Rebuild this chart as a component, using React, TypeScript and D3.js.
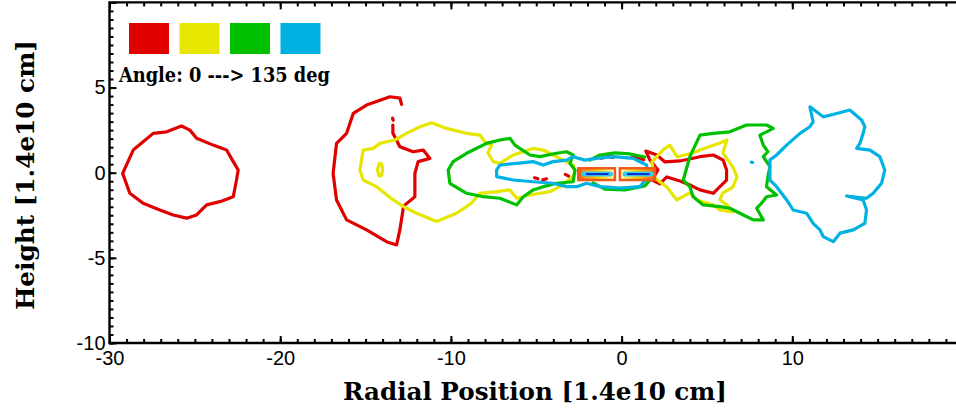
import React, { useEffect, useRef } from "react";
import * as d3 from "d3";

type Pt = [number, number];

// colours of the four viewing angles, 0 -> 135 deg
const angleColors = ["#e00000", "#e6e600", "#00c000", "#00b2e2"];
const angleLabel = "Angle: 0 ---> 135 deg";
const xLabel = "Radial Position [1.4e10 cm]";
const yLabel = "Height [1.4e10 cm]";
const xTickLabels = [-30, -20, -10, 0, 10];
const yTickLabels = [-10, -5, 0, 5];

// contours, [radial, height] in 1.4e10 cm
const redLeft: Pt[] = [
  [-29.23, -0.04], [-28.61, 1.33], [-27.44, 2.31], [-26.65, 2.4], [-25.78, 2.74],
  [-25.29, 2.5], [-24.9, 2.02], [-23.93, 1.62], [-23.14, 1.33], [-22.75, 0.65],
  [-22.46, 0.16], [-22.56, -0.43], [-22.75, -1.41], [-23.53, -1.7], [-24.31, -1.89],
  [-24.9, -2.48], [-25.48, -2.67], [-26.27, -2.48], [-27.05, -2.19], [-28.03, -1.79],
  [-28.81, -1.21],
];
const redMid: Pt[] = [
  [-12.89, 4.01], [-12.99, 4.38], [-13.57, 4.46], [-14.94, 3.97], [-15.72, 3.48],
  [-16.11, 2.31], [-16.7, 1.72], [-16.9, -0.04], [-16.7, -1.6], [-16.11, -2.77],
  [-14.94, -3.36], [-13.77, -4.05], [-13.18, -4.24], [-12.99, -3.36], [-12.79, -2.09],
  [-12.69, -1.89], [-12.11, -1.41], [-12.11, -0.04], [-11.92, 0.65], [-11.23, 0.84],
  [-11.62, 1.33], [-12.21, 1.23], [-12.99, 1.52], [-13.4, 2.33], [-13.4, 2.8],
];
const redDot: Pt[] = [[-13.42, 3.2], [-13.38, 3.08]];
const redBits: Pt[][] = [
  [[-5.1, -0.3], [-4.9, -0.36]],
  [[-4.62, -0.42], [-4.4, -0.36]],
  [[-3.3, -0.1], [-3.1, -0.2]],
  [[-1.2, 0.85], [-0.8, 0.95], [-0.5, 0.9]],
  [[0.6, 0.92], [1.0, 0.86], [1.3, 0.76]],
];
const redRight: Pt[] = [
  [1.42, 1.27], [2.07, 1.04], [2.54, 0.63], [3.42, 0.69], [4.59, 0.94], [5.37, 1.04],
  [5.95, 0.74], [6.15, 0.16], [6.15, -0.43], [5.76, -0.82], [5.37, -1.21], [4.59, -1.01],
  [4.0, -0.72], [3.42, -0.49], [2.65, -0.25], [2.24, -0.66], [1.78, -0.43], [2.13, 0.16],
  [1.66, 0.74],
];
const yellowLeft: Pt[] = [
  [-15.33, 0.16], [-15.14, 1.33], [-14.55, 1.43], [-14.16, 1.72], [-13.77, 1.82],
  [-13.28, 1.92], [-12.6, 2.31], [-11.82, 2.7], [-11.13, 2.93], [-10.25, 2.6],
  [-9.08, 2.31], [-8.3, 2.21], [-8.01, 1.82], [-7.62, 1.62], [-7.83, 1.16],
  [-7.52, 0.65], [-7.13, 0.55], [-6.35, 1.04], [-5.76, 1.23], [-5.18, 1.43],
  [-4.59, 1.33], [-4.01, 1.04], [-3.42, 0.74], [-2.84, 0.45], [-2.74, 0.04],
  [-2.84, -0.23], [-3.22, -0.53], [-3.61, -0.82], [-4.2, -1.11], [-5.37, -1.31],
  [-6.15, -1.5], [-6.54, -1.01], [-7.32, -1.11], [-8.3, -1.21], [-8.79, -1.79],
  [-9.67, -2.38], [-10.84, -2.87], [-12.01, -2.38], [-12.6, -2.09], [-13.38, -1.6],
  [-14.35, -0.82], [-15.14, -0.43],
];
const yellowBlob: Pt[] = [
  [-14.2, 0.55], [-14.05, 0.5], [-14.0, 0.2], [-14.05, -0.15], [-14.2, -0.2], [-14.3, 0.15],
];
const yellowRight: Pt[] = [
  [1.77, 0.63], [2.42, 1.33], [2.83, 1.62], [3.24, 0.94], [4.18, 1.16], [4.59, 1.33],
  [5.76, 1.74], [6.17, 1.92], [5.93, 1.16], [6.52, 0.33], [6.76, -0.25], [6.52, -0.84],
  [5.93, -1.19], [5.76, -1.6], [6.17, -1.89], [6.52, -2.31], [5.76, -2.19], [5.35, -1.89],
  [4.41, -1.6], [4.0, -1.19], [3.24, -1.6], [2.65, -0.84], [1.95, -0.31],
];
const greenLeft: Pt[] = [
  [-10.16, 0.16], [-9.87, 0.65], [-9.08, 1.14], [-7.91, 1.72], [-7.13, 1.92],
  [-6.54, 2.02], [-6.25, 1.62], [-5.37, 1.04], [-4.79, 0.94], [-3.81, 1.14],
  [-3.22, 1.23], [-2.84, 1.04], [-3.03, 0.55], [-2.73, 0.16], [-2.84, -0.53],
  [-3.81, -0.62], [-4.59, -0.82], [-5.18, -1.01], [-5.76, -1.41], [-6.15, -1.89],
  [-7.13, -1.5], [-8.11, -1.41], [-9.08, -1.21], [-10.06, -0.62],
];
const greenCore: Pt[][] = [
  [[-1.67, -0.6], [-0.98, -0.96], [0.19, -1.01], [1.36, -0.78], [1.77, -0.31]],
  [[-1.86, 0.74], [-1.27, 1.04], [-0.39, 1.16], [0.49, 1.1], [1.36, 0.92]],
];
const greenRight: Pt[] = [
  [3.61, -0.43], [4.0, 0.94], [4.59, 2.21], [5.37, 2.31], [6.34, 2.4], [7.32, 2.8],
  [8.49, 2.8], [8.88, 2.6], [8.49, 2.4], [8.1, 2.21], [8.3, 1.62], [8.57, 1.23],
  [8.3, 0.94], [8.69, 0.35], [8.57, -0.23], [8.49, -0.82], [9.08, -1.31], [8.49, -1.41],
  [8.2, -1.79], [7.91, -2.09], [8.3, -2.77], [7.71, -2.77], [6.93, -2.38], [6.34, -2.09],
  [5.76, -1.99], [4.78, -1.89], [4.19, -1.41], [4.0, -0.82],
];
const cyanCore: Pt[] = [
  [-7.32, 0.16], [-7.13, 0.45], [-6.15, 0.55], [-5.18, 0.65], [-4.59, 0.45], [-4.01, 0.65],
  [-3.22, 0.74], [-2.84, 0.94], [-2.15, 0.74], [-1.46, 0.84], [-0.49, 0.94], [0.68, 0.84],
  [1.46, 0.45], [1.56, -0.23], [1.07, -0.82], [-0.1, -0.91], [-1.27, -0.82], [-2.05, -0.62],
  [-2.64, -0.82], [-3.22, -0.82], [-4.01, -0.62], [-5.18, -0.53], [-6.35, -0.43], [-7.32, -0.23],
];
const cyanRight: Pt[] = [
  [8.69, 0.74], [9.08, 1.04], [9.67, 1.62], [10.45, 2.31], [11.03, 2.7], [11.22, 2.99],
  [11.03, 3.87], [11.42, 3.58], [11.81, 3.28], [12.6, 3.48], [13.37, 3.68], [14.06, 3.09],
  [14.25, 2.7], [14.15, 2.31], [13.96, 1.72], [13.77, 1.43], [14.55, 1.33], [15.13, 0.94],
  [15.42, 0.16], [15.23, -0.62], [14.74, -1.21], [14.35, -1.5], [13.18, -1.37], [14.15, -1.6],
  [14.35, -2.19], [14.25, -2.97], [13.57, -3.36], [12.79, -3.55], [12.4, -4.05], [11.81, -3.75],
  [11.62, -3.36], [11.22, -2.97], [10.84, -2.38], [10.05, -2.19], [9.67, -1.6], [9.08, -0.82],
  [8.69, -0.43],
];
const cyanDots: Pt[][] = [
  [[7.6, 0.62], [7.68, 0.6]],
];

// the jet image at the centre: two bars, [x0, x1], and the beam inside
const barX: Pt[] = [[-2.54, -0.39], [-0.1, 1.95]];
const barY: Pt = [-0.43, 0.26];
const beamX: Pt[] = [[-2.2, -0.65], [0.2, 1.75]];
const beamY = -0.08;

export default function App() {
  const ref = useRef<SVGSVGElement>(null);

  useEffect(() => {
    const svg = d3.select(ref.current);
    svg.selectAll("*").remove();

    const x = d3.scaleLinear().domain([-30, 20]).range([109.5, 963]);
    const y = d3.scaleLinear().domain([-10, 10]).range([343, 2.4]);

    const open = d3.line<Pt>().x(d => x(d[0])).y(d => y(d[1]));
    const closed = d3.line<Pt>().x(d => x(d[0])).y(d => y(d[1])).curve(d3.curveLinearClosed);

    const series: { c: number; pts: Pt[]; shut: boolean }[] = [
      { c: 0, pts: redLeft, shut: true },
      { c: 0, pts: redMid, shut: false },
      { c: 0, pts: redDot, shut: false },
      ...redBits.map(p => ({ c: 0, pts: p, shut: false })),
      { c: 0, pts: redRight, shut: true },
      { c: 1, pts: yellowLeft, shut: true },
      { c: 1, pts: yellowBlob, shut: true },
      { c: 1, pts: yellowRight, shut: true },
      { c: 2, pts: greenLeft, shut: true },
      ...greenCore.map(p => ({ c: 2, pts: p, shut: false })),
      { c: 2, pts: greenRight, shut: true },
      { c: 3, pts: cyanCore, shut: true },
      { c: 3, pts: cyanRight, shut: true },
      ...cyanDots.map(p => ({ c: 3, pts: p, shut: false })),
    ];

    svg.append("g")
      .selectAll("path")
      .data(series)
      .join("path")
      .attr("d", d => (d.shut ? closed : open)(d.pts))
      .attr("fill", "none")
      .attr("stroke", d => angleColors[d.c])
      .attr("stroke-width", 3.2)
      .attr("stroke-linejoin", "round")
      .attr("stroke-linecap", "round");

    // heat bars
    const defs = svg.append("defs");
    ["heatL", "heatR"].forEach((id, i) => {
      const g = defs.append("linearGradient").attr("id", id)
        .attr("x1", i ? 1 : 0).attr("x2", i ? 0 : 1).attr("y1", 0).attr("y2", 0);
      [[0, "#f5501a"], [0.15, "#ff8a10"], [0.55, "#ffd400"], [0.85, "#fff27a"], [1, "#fffde8"]]
        .forEach(([o, c]) => g.append("stop").attr("offset", o as number).attr("stop-color", c as string));
    });
    const bars = svg.append("g");
    bars.selectAll("rect")
      .data(barX)
      .join("rect")
      .attr("x", d => x(d[0]))
      .attr("width", d => x(d[1]) - x(d[0]))
      .attr("y", y(barY[1]))
      .attr("height", y(barY[0]) - y(barY[1]))
      .attr("fill", (d, i) => `url(#${i ? "heatR" : "heatL"})`)
      .attr("stroke", "#f05a18")
      .attr("stroke-width", 2.5);
    bars.selectAll("line.glow")
      .data(beamX)
      .join("line")
      .attr("class", "glow")
      .attr("x1", d => x(d[0])).attr("x2", d => x(d[1]))
      .attr("y1", y(beamY)).attr("y2", y(beamY))
      .attr("stroke", "#38c8f0").attr("stroke-width", 5).attr("stroke-linecap", "round");
    bars.selectAll("line.core")
      .data(beamX)
      .join("line")
      .attr("class", "core")
      .attr("x1", d => x(d[0]) + 2).attr("x2", d => x(d[1]) - 2)
      .attr("y1", y(beamY)).attr("y2", y(beamY))
      .attr("stroke", "#0a2cc8").attr("stroke-width", 2);

    // axes, ticks inward
    const font = "'DejaVu Serif', serif";
    const axes = svg.append("g").attr("font-family", font);

    const tickAxis = (axis: d3.Axis<d3.NumberValue>, tr: string, labels: boolean) => {
      const g = axes.append("g").attr("transform", tr).call(axis);
      g.select(".domain").remove();
      g.selectAll(".tick line").attr("stroke", "#000").attr("stroke-width", 2);
      g.selectAll(".tick text").attr("font-size", 20).attr("fill", "#000");
      if (!labels) g.selectAll(".tick text").remove();
      return g;
    };

    const xMinor = d3.range(-30, 21, 1);
    const xMajor = d3.range(-30, 21, 10);
    const yMinor = d3.range(-10, 10.01, 0.5);
    const yMajor = d3.range(-10, 10.01, 5);

    tickAxis(d3.axisBottom(x).tickValues(xMinor).tickSize(-4).tickFormat(() => ""), `translate(0,${y(-10)})`, false);
    tickAxis(d3.axisBottom(x).tickValues(xMajor).tickSize(-7).tickPadding(8)
      .tickFormat(d => (xTickLabels.includes(+d) ? String(d) : "")), `translate(0,${y(-10)})`, true);
    tickAxis(d3.axisTop(x).tickValues(xMinor).tickSize(-4), `translate(0,${y(10)})`, false);
    tickAxis(d3.axisTop(x).tickValues(xMajor).tickSize(-7), `translate(0,${y(10)})`, false);
    tickAxis(d3.axisLeft(y).tickValues(yMinor).tickSize(-4), `translate(${x(-30)},0)`, false);
    tickAxis(d3.axisLeft(y).tickValues(yMajor).tickSize(-7).tickPadding(4)
      .tickFormat(d => (yTickLabels.includes(+d) ? String(d) : "")), `translate(${x(-30)},0)`, true);

    // frame
    axes.append("path")
      .attr("d", `M${x(20)},${y(10)}H${x(-30)}V${y(-10)}H${x(20)}`)
      .attr("fill", "none")
      .attr("stroke", "#000")
      .attr("stroke-width", 2.4);

    // titles
    axes.append("text")
      .attr("x", 535).attr("y", 400)
      .attr("text-anchor", "middle")
      .attr("font-size", 24.5).attr("font-weight", "bold")
      .attr("textLength", 384).attr("lengthAdjust", "spacingAndGlyphs")
      .text(xLabel);
    axes.append("text")
      .attr("transform", "translate(34,175) rotate(-90)")
      .attr("text-anchor", "middle")
      .attr("font-size", 24.5).attr("font-weight", "bold")
      .attr("textLength", 270).attr("lengthAdjust", "spacingAndGlyphs")
      .text(yLabel);

    // legend
    const legend = svg.append("g");
    legend.selectAll("rect")
      .data(angleColors)
      .join("rect")
      .attr("x", (d, i) => 129 + i * 50.5)
      .attr("y", 23)
      .attr("width", 40)
      .attr("height", 31)
      .attr("fill", d => d);
    legend.append("text")
      .attr("x", 119).attr("y", 82)
      .attr("font-family", font)
      .attr("font-size", 19.5).attr("font-weight", "bold")
      .attr("textLength", 211).attr("lengthAdjust", "spacingAndGlyphs")
      .text(angleLabel);
  }, []);

  return (
    <svg
      ref={ref}
      width={956}
      height={410}
      style={{ position: "absolute", left: 0, top: 0, background: "#fff" }}
    />
  );
}
